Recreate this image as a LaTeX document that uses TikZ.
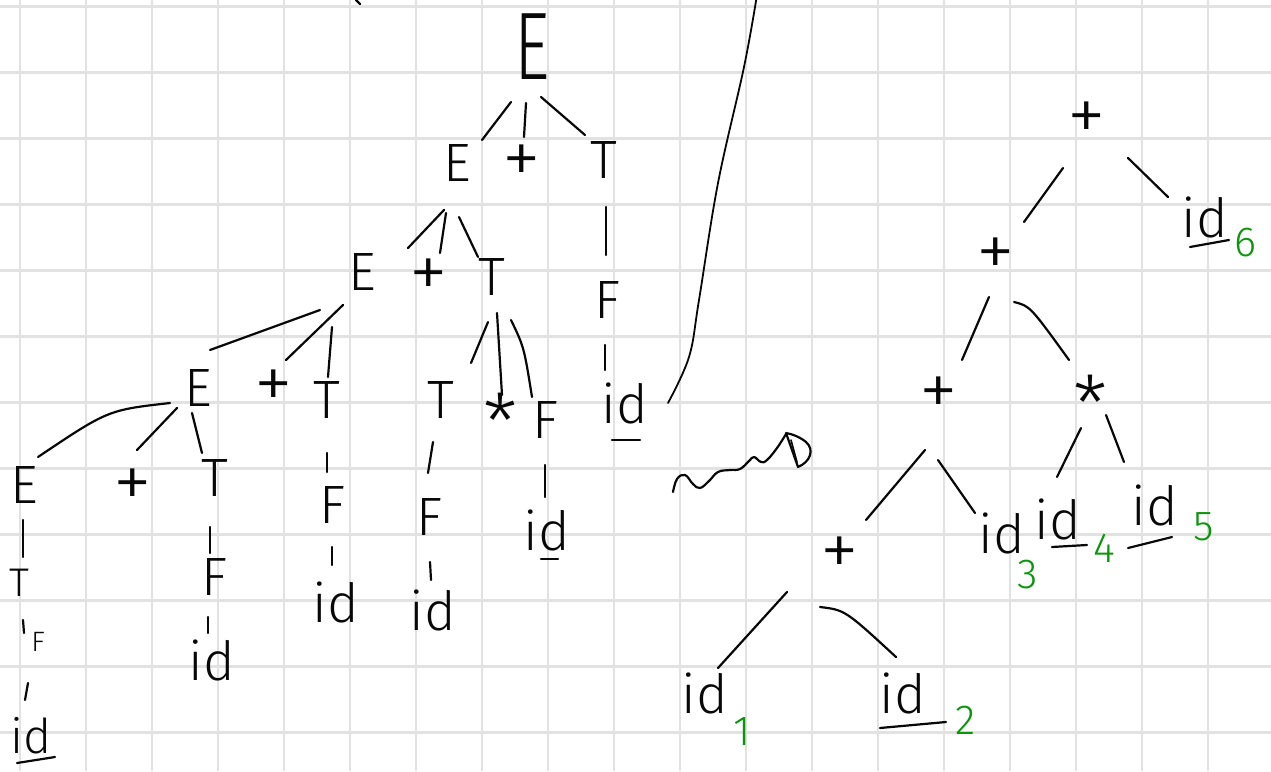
\documentclass[tikz,border=0pt]{standalone}
\usepackage{fontspec}
\setmainfont{Fira Sans Light}
\usetikzlibrary{calc}
\definecolor{gridc}{RGB}{226,226,226}
\definecolor{ink}{RGB}{8,8,8}
\definecolor{grn}{RGB}{12,150,12}
\newcommand\edg[4]{\draw[edge] ([shift={#2}]#1.center) -- ([shift={#4}]#3.center);}
\newcommand\edgc[5]{\draw[edge] ([shift={#2}]#1.center) .. controls ([shift={#3}]#1.center) .. ([shift={#5}]#4.center);}
\newcommand\ul[3]{\draw[edge] ([shift={#2}]#1.center) -- ([shift={#3}]#1.center);}
\begin{document}
\begin{tikzpicture}[x=1pt,y=-1pt,
  gridline/.style={draw=gridc, line width=2.6pt},
  lab/.style={inner sep=0pt, text=ink, font=\fontsize{54}{54}\selectfont},
  op/.style={inner sep=0pt, text=ink, font=\fontsize{78}{78}\selectfont},
  sml/.style={inner sep=0pt, text=ink, font=\fontsize{40}{40}\selectfont},
  num/.style={inner sep=0pt, text=grn, font=\fontsize{42}{42}\selectfont},
  edge/.style={draw=ink, line width=2.2pt, line cap=round, line join=round}]
\useasboundingbox (0,0) rectangle (1271,771);
\fill[white] (0,0) rectangle (1271,771);
\foreach \i in {0,...,19} \draw[gridline] (20+66*\i,0) -- (20+66*\i,771);
\foreach \j in {0,...,11} \draw[gridline] (0,6.7+66*\j) -- (1271,6.7+66*\j);

% ---------- parse tree ----------
\node[inner sep=0pt, text=ink, font=\fontsize{96}{96}\selectfont] (root) at (532,47) {\scalebox{0.72}[1]{E}};
\node[lab] (e2E) at (457,163) {E};
\node[op] (e2p) at (522,165) {+};
\node[lab] (e2T) at (604,160) {T};
\node[lab] (e3E) at (362,272) {E};
\node[op] (e3p) at (429,279) {+};
\node[lab] (e3T) at (492,277) {T};
\node[lab] (t2F) at (607,300) {F};
\node[lab] (t2id) at (625,403) {id};
\node[lab] (e4E) at (198,388) {E};
\node[op] (e4p) at (274,390) {+};
\node[lab] (e4T1) at (327,400) {T};
\node[lab] (e4T2) at (441,400) {T};
\node[op] (e4s) at (500,422) {*};
\node[lab] (e4F) at (545,420) {F};
\node[lab] (e5E) at (24,485) {E};
\node[op] (e5p) at (133,489) {+};
\node[lab] (e5T) at (215,478) {T};
\node[sml] (c1T) at (19,583) {T};
\node[inner sep=0pt, text=ink, font=\fontsize{28}{28}\selectfont] (c1F) at (38,642) {F};
\node[inner sep=0pt, text=ink, font=\fontsize{48}{48}\selectfont] (c1id) at (31,736) {id};
\node[lab] (c2F) at (214,577) {F};
\node[lab] (c2id) at (212,660) {id};
\node[lab] (c3F) at (332,505) {F};
\node[lab] (c3id) at (336,602) {id};
\node[lab] (c4F) at (429,517) {F};
\node[lab] (c4id) at (433,610) {id};
\node[lab] (c5id) at (547,530) {id};

\edg{root}{(-21,55)}{e2E}{(25,-23)}
\edg{root}{(-6,56)}{e2p}{(2,-28)}
\edg{root}{(9,50)}{e2T}{(-19,-25)}
\edg{e2E}{(-13,47)}{e3E}{(46,-24)}
\edg{e2E}{(-11,50)}{e3p}{(11,-26)}
\edg{e2E}{(2,54)}{e3T}{(-14,-20)}
\edg{e2T}{(2,47)}{t2F}{(-1,-45)}
\edg{t2F}{(-2,45)}{t2id}{(-20,-33)}
\edg{e3E}{(-42,38)}{e4E}{(12,-38)}
\edg{e3E}{(-19,33)}{e4p}{(12,-30)}
\edg{e3E}{(-30,55)}{e4T1}{(1,-23)}
\edg{e3T}{(-4,45)}{e4T2}{(30,-37)}
\edg{e3T}{(5,36)}{e4s}{(2,-27)}
\edgc{e3T}{(19,43)}{(32,70)}{e4F}{(-13,-23)}
\edgc{e4E}{(-28,15)}{(-90,22)}{e5E}{(14,-28)}
\edg{e4E}{(-21,20)}{e5p}{(4,-39)}
\edg{e4E}{(-6,25)}{e5T}{(-13,-25)}
\edg{e5E}{(-1,35)}{c1T}{(4,-26)}
\edg{c1T}{(4,37)}{c1F}{(-14,-9)}
\edg{c1F}{(-10,41)}{c1id}{(-6,-36)}
\edg{e5T}{(-5,49)}{c2F}{(-4,-24)}
\edg{c2F}{(-6,40)}{c2id}{(-4,-27)}
\edg{e4T1}{(0,53)}{c3F}{(-5,-33)}
\edg{c3F}{(0,42)}{c3id}{(-4,-37)}
\edg{e4T2}{(-8,42)}{c4F}{(-1,-44)}
\edg{c4F}{(1,45)}{c4id}{(-2,-30)}
\edg{e4F}{(0,45)}{c5id}{(-2,-33)}

\ul{t2id}{(-13,37)}{(15,37)}
\ul{c5id}{(-6,29)}{(11,29)}
\ul{c1id}{(-14,27)}{(24,21)}

% small mark at top
\draw[edge] (356,0) -- (360,4);

% separator stroke
\draw[edge, line width=1.8pt] plot[smooth, tension=0.6] coordinates {(668,403) (689,357) (699,300) (718,183) (744,67) (757,-5)};

% squiggly arrow
\draw[edge] plot[smooth, tension=0.7] coordinates {(673,492) (677,479) (685,475) (693,484) (700,488) (709,481) (718,472) (730,470) (740,469) (749,461) (754,457) (761,462) (767,460) (777,448) (786,434)};
\draw[edge] (786,433) -- (798,467) .. controls (810,462) and (815,450) .. (806,442) .. controls (800,437) and (792,434) .. (786,433);
\draw[edge, line width=1.6pt] (791,440) -- (797,462);

% ---------- syntax tree ----------
\node[op] (r1) at (1087,122) {+};
\node[op] (r2) at (996,258) {+};
\node[op] (r3) at (939,397) {+};
\node[op] (r4) at (1090,404) {*};
\node[op] (r5) at (840,557) {+};
\node[lab] (id1) at (705,693) {id};
\node[lab] (id2) at (903,693) {id};
\node[lab] (id3) at (1002,533) {id};
\node[lab] (id4) at (1058,519) {id};
\node[lab] (id5) at (1155,505) {id};
\node[lab] (id6) at (1205,217) {id};
\node[num] (n1) at (742,732) {1};
\node[num] (n2) at (966,720) {2};
\node[num] (n3) at (1028,575) {3};
\node[num] (n4) at (1104,548) {4};
\node[num] (n5) at (1204,527) {5};
\node[num] (n6) at (1245,243) {6};

\edg{r1}{(-24,46)}{r2}{(28,-36)}
\edg{r1}{(41,36)}{id6}{(-37,-20)}
\edg{r2}{(-7,39)}{r3}{(23,-37)}
\edgc{r2}{(18,44)}{(34,48)}{r4}{(-21,-44)}
\edg{r3}{(-14,53)}{r5}{(26,-37)}
\edg{r3}{(-1,63)}{id3}{(-27,-20)}
\edg{r4}{(-9,24)}{id4}{(-1,-42)}
\edg{r4}{(16,11)}{id5}{(-31,-43)}
\edg{r5}{(-53,35)}{id1}{(13,-25)}
\edgc{r5}{(-20,50)}{(5,53)}{id2}{(-7,-36)}

\ul{id6}{(-15,30)}{(24,23)}
\ul{id4}{(-6,28)}{(29,26)}
\ul{id5}{(-27,43)}{(17,32)}
\ul{id2}{(-23,35)}{(43,29)}
\end{tikzpicture}
\end{document}
